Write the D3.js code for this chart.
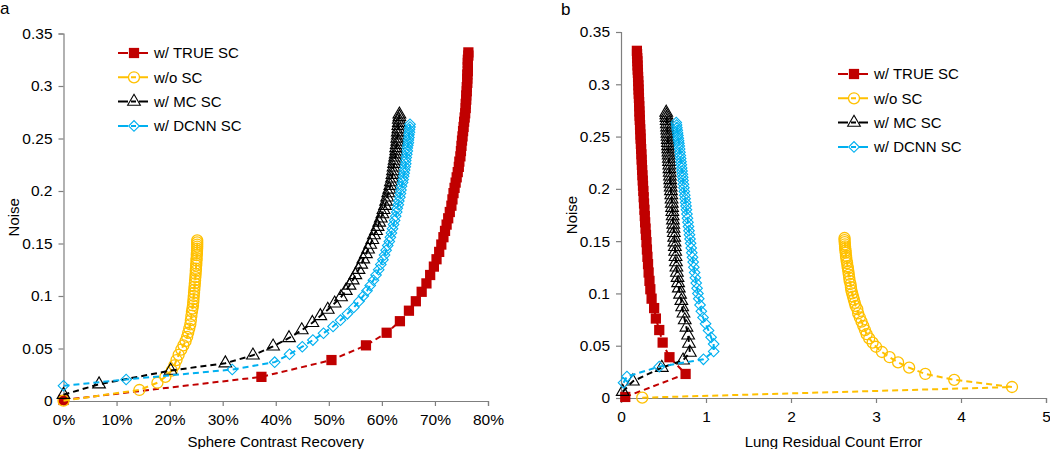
<!DOCTYPE html>
<html><head><meta charset="utf-8">
<script src="https://cdn.jsdelivr.net/npm/d3@7"></script>
<style>body{margin:0;background:#fff}svg{display:block}text{font-family:"Liberation Sans",Arial,sans-serif}</style>
</head><body>
<svg id="c" width="1050" height="449"></svg>
<script>
// ---------- data ----------
const seriesNames = ["w/ TRUE SC", "w/o SC", "w/ MC SC", "w/ DCNN SC"];
const yTicks = [0, 0.05, 0.1, 0.15, 0.2, 0.25, 0.3, 0.35];
const yTickLabels = ["0", "0.05", "0.1", "0.15", "0.2", "0.25", "0.3", "0.35"];
const xTicksA = [0, 0.1, 0.2, 0.3, 0.4, 0.5, 0.6, 0.7, 0.8];
const xTickLabelsA = ["0%", "10%", "20%", "30%", "40%", "50%", "60%", "70%", "80%"];
const xTicksB = [0, 1, 2, 3, 4, 5];
const xTickLabelsB = ["0", "1", "2", "3", "4", "5"];

// w/ TRUE SC
const trueNoise = [0.001,0.023,0.039,0.053,0.065,0.076,0.086,0.095,0.104,0.112,0.120,0.128,0.135,0.142,0.149,0.156,0.162,0.168,0.174,0.180,0.186,0.192,0.198,0.203,0.208,0.213,0.218,0.223,0.228,0.233,0.238,0.243,0.248,0.252,0.257,0.261,0.266,0.270,0.274,0.279,0.283,0.287,0.291,0.295,0.299,0.303,0.307,0.311,0.314,0.318,0.322,0.325,0.329,0.332];
const trueCRC = [0.000,0.373,0.505,0.570,0.609,0.634,0.651,0.664,0.675,0.684,0.691,0.698,0.703,0.708,0.712,0.716,0.719,0.722,0.725,0.728,0.731,0.733,0.735,0.737,0.739,0.741,0.743,0.745,0.746,0.748,0.749,0.750,0.751,0.752,0.753,0.754,0.755,0.756,0.757,0.758,0.758,0.759,0.759,0.760,0.760,0.761,0.761,0.761,0.762,0.762,0.762,0.762,0.763,0.763];
const trueLRCE = [0.05,0.76,0.57,0.49,0.45,0.41,0.39,0.36,0.345,0.335,0.325,0.318,0.311,0.305,0.300,0.294,0.289,0.284,0.280,0.276,0.271,0.267,0.263,0.259,0.256,0.252,0.249,0.246,0.243,0.240,0.237,0.234,0.231,0.229,0.226,0.224,0.221,0.219,0.217,0.215,0.213,0.211,0.209,0.207,0.205,0.203,0.201,0.199,0.197,0.195,0.193,0.191,0.189,0.187];

// w/o SC
const noscNoise = [0.0003,0.0105,0.0174,0.023,0.029,0.034,0.039,0.044,0.049,0.053,0.057,0.061,0.065,0.069,0.073,0.077,0.081,0.085,0.088,0.091,0.094,0.097,0.100,0.103,0.106,0.109,0.112,0.115,0.118,0.121,0.124,0.126,0.129,0.131,0.134,0.136,0.139,0.141,0.143,0.145,0.147,0.149,0.151,0.153];
const noscCRC = [0.000,0.143,0.177,0.192,0.204,0.209,0.213,0.217,0.222,0.226,0.230,0.233,0.235,0.237,0.239,0.240,0.241,0.242,0.243,0.244,0.2445,0.245,0.2455,0.246,0.2465,0.247,0.2475,0.248,0.2485,0.249,0.2493,0.2496,0.250,0.2503,0.2506,0.2509,0.2512,0.2514,0.2516,0.2518,0.252,0.252,0.252,0.252];
const noscLRCE = [0.25,4.60,3.92,3.58,3.39,3.26,3.16,3.07,3.00,2.96,2.92,2.89,2.87,2.85,2.83,2.81,2.79,2.78,2.76,2.75,2.74,2.73,2.72,2.71,2.705,2.70,2.69,2.685,2.68,2.675,2.67,2.665,2.66,2.655,2.65,2.647,2.644,2.641,2.638,2.636,2.634,2.632,2.63,2.63];

// w/ MC SC
const mcNoise = [0.006,0.016,0.029,0.036,0.0435,0.052,0.060,0.0675,0.0745,0.081,0.087,0.093,0.099,0.105,0.110,0.115,0.120,0.125,0.130,0.135,0.140,0.1445,0.149,0.1535,0.158,0.162,0.166,0.170,0.174,0.178,0.182,0.186,0.190,0.194,0.198,0.2015,0.205,0.2085,0.212,0.2155,0.219,0.2225,0.226,0.229,0.232,0.235,0.238,0.241,0.244,0.247,0.250,0.253,0.256,0.259,0.262,0.265,0.268,0.2705,0.273];
const mcCRC = [0.000,0.067,0.202,0.305,0.357,0.395,0.425,0.449,0.469,0.484,0.498,0.511,0.523,0.532,0.539,0.545,0.550,0.556,0.561,0.565,0.570,0.574,0.578,0.582,0.585,0.589,0.592,0.595,0.598,0.601,0.603,0.606,0.608,0.610,0.612,0.614,0.616,0.617,0.619,0.620,0.621,0.622,0.623,0.624,0.625,0.626,0.627,0.627,0.628,0.629,0.629,0.630,0.630,0.631,0.631,0.632,0.632,0.633,0.633];
const mcLRCE = [0.02,0.14,0.48,0.73,0.81,0.80,0.79,0.77,0.75,0.735,0.72,0.71,0.695,0.68,0.672,0.665,0.658,0.652,0.647,0.642,0.638,0.634,0.630,0.626,0.622,0.618,0.615,0.611,0.608,0.604,0.601,0.598,0.595,0.592,0.588,0.585,0.582,0.579,0.576,0.573,0.570,0.568,0.565,0.563,0.561,0.558,0.556,0.554,0.552,0.550,0.548,0.546,0.544,0.542,0.540,0.538,0.536,0.534,0.532];

// w/ DCNN SC
const dcnnNoise = [0.0145,0.0205,0.030,0.037,0.0445,0.0517,0.058,0.0645,0.071,0.077,0.083,0.089,0.095,0.100,0.105,0.110,0.115,0.120,0.125,0.130,0.1345,0.139,0.1435,0.148,0.152,0.156,0.160,0.164,0.168,0.172,0.176,0.180,0.1835,0.187,0.1905,0.194,0.1975,0.201,0.2045,0.208,0.211,0.214,0.217,0.220,0.223,0.226,0.229,0.232,0.235,0.238,0.241,0.2435,0.246,0.2485,0.251,0.2535,0.256,0.2585,0.261,0.2635];
const dcnnCRC = [0.000,0.118,0.318,0.398,0.426,0.450,0.470,0.490,0.508,0.522,0.535,0.547,0.557,0.565,0.572,0.578,0.584,0.589,0.594,0.598,0.602,0.605,0.608,0.611,0.614,0.616,0.618,0.620,0.622,0.624,0.626,0.628,0.629,0.631,0.632,0.634,0.635,0.636,0.637,0.639,0.640,0.641,0.642,0.643,0.644,0.645,0.645,0.646,0.647,0.648,0.648,0.649,0.650,0.650,0.651,0.651,0.652,0.652,0.653,0.653];
const dcnnLRCE = [0.03,0.07,0.45,0.97,1.09,1.09,1.06,1.03,0.995,0.965,0.945,0.93,0.915,0.905,0.895,0.885,0.875,0.866,0.857,0.849,0.841,0.833,0.826,0.819,0.812,0.806,0.800,0.794,0.788,0.782,0.776,0.770,0.765,0.760,0.755,0.750,0.745,0.740,0.735,0.730,0.726,0.722,0.718,0.714,0.710,0.706,0.702,0.698,0.694,0.690,0.686,0.682,0.678,0.674,0.670,0.666,0.662,0.658,0.654,0.650];

// ---------- drawing ----------
const svg = d3.select("#c");
const styles = [
  {color:"#C00000", type:"square", fill:true},
  {color:"#FFC000", type:"circle", fill:false},
  {color:"#000000", type:"triangle", fill:false},
  {color:"#00B0F0", type:"diamond", fill:false}
];
const seriesA = [
  {noise:trueNoise, x:trueCRC},
  {noise:noscNoise, x:noscCRC},
  {noise:mcNoise, x:mcCRC},
  {noise:dcnnNoise, x:dcnnCRC}
];
const seriesB = [
  {noise:trueNoise, x:trueLRCE},
  {noise:noscNoise, x:noscLRCE},
  {noise:mcNoise, x:mcLRCE},
  {noise:dcnnNoise, x:dcnnLRCE}
];

function markerPath(type){
  if(type==="square") return d3.symbol(d3.symbolSquare, 105)();
  if(type==="circle") return d3.symbol(d3.symbolCircle, 95)();
  if(type==="triangle") return d3.symbol(d3.symbolTriangle, 70)();
  return d3.symbol(d3.symbolSquare, 56)();
}
function drawMarker(g, st, x, y){
  const p = g.append("path").attr("d", markerPath(st.type))
    .attr("transform", `translate(${x},${y})` + (st.type==="diamond" ? " rotate(45)" : ""));
  if(st.fill) p.attr("fill", st.color).attr("stroke", "none");
  else p.attr("fill", "none").attr("stroke", st.color).attr("stroke-width", st.type==="circle"?1.3:1.1);
}

function panel(opts){
  const g = svg.append("g");
  const x = d3.scaleLinear().domain(opts.xDomain).range(opts.xRange);
  const y = d3.scaleLinear().domain([0,0.35]).range(opts.yRange);
  const axisColor = "#7f7f7f";
  const ya = g.append("g").attr("transform", `translate(${opts.xRange[0]},0)`)
    .call(d3.axisLeft(y).tickValues(yTicks).tickFormat((d,i)=>yTickLabels[i]).tickSize(5).tickPadding(6));
  const xa = g.append("g").attr("transform", `translate(0,${opts.yRange[0]})`)
    .call(d3.axisBottom(x).tickValues(opts.xTicks).tickFormat((d,i)=>opts.xTickLabels[i]).tickSize(5).tickPadding(5));
  [ya, xa].forEach(a=>{
    a.select(".domain").attr("stroke", axisColor).attr("stroke-width",1.2);
    a.selectAll(".tick line").attr("stroke", axisColor).attr("stroke-width",1.2);
    a.selectAll("text").attr("font-size", 15.5).attr("fill","#000").attr("font-family","Liberation Sans, Arial, sans-serif");
  });
  xa.selectAll("text").attr("dy", "0.9em");
  g.append("text").attr("x", (opts.xRange[0]+opts.xRange[1])/2).attr("y", 447)
    .attr("text-anchor","middle").attr("font-size",15).text(opts.xLabel);
  g.append("text").attr("transform", `translate(${opts.yLabelX},${(opts.yRange[0]+opts.yRange[1])/2}) rotate(-90)`)
    .attr("text-anchor","middle").attr("font-size",15).text("Noise");
  g.append("text").attr("x", opts.panelX).attr("y", opts.panelY).attr("font-size",17).text(opts.panelLabel);
  const line = d3.line();
  opts.series.forEach((s,i)=>{
    const st = styles[i];
    const pts = s.noise.map((n,k)=>[x(s.x[k]), y(n)]);
    g.append("path").attr("d", line(pts)).attr("fill","none").attr("stroke", st.color)
      .attr("stroke-width", 2).attr("stroke-dasharray","6,4");
    const mg = g.append("g");
    pts.forEach(p=>drawMarker(mg, st, p[0], p[1]));
  });
  seriesNames.forEach((name,i)=>{
    const st = styles[i];
    const ly = opts.legY + i*24.3;
    g.append("line").attr("x1", opts.legX).attr("x2", opts.legX+30).attr("y1", ly).attr("y2", ly)
      .attr("stroke", st.color).attr("stroke-width",2).attr("stroke-dasharray","10,3,5,3");
    drawMarker(g, st, opts.legX+16, ly);
    g.append("text").attr("x", opts.legX+36).attr("y", ly).attr("dy","0.35em").attr("font-size",15).text(name);
  });
}

panel({xDomain:[0,0.8], xRange:[63.5,488], yRange:[401,33.5], xTicks:xTicksA, xTickLabels:xTickLabelsA,
  series:seriesA, xLabel:"Sphere Contrast Recovery", yLabelX:19, panelLabel:"a", panelX:0, panelY:14,
  legX:118, legY:53});
panel({xDomain:[0,5], xRange:[621,1046], yRange:[398,32], xTicks:xTicksB, xTickLabels:xTickLabelsB,
  series:seriesB, xLabel:"Lung Residual Count Error", yLabelX:577, panelLabel:"b", panelX:561, panelY:15,
  legX:838, legY:74});
</script>
</body></html>
